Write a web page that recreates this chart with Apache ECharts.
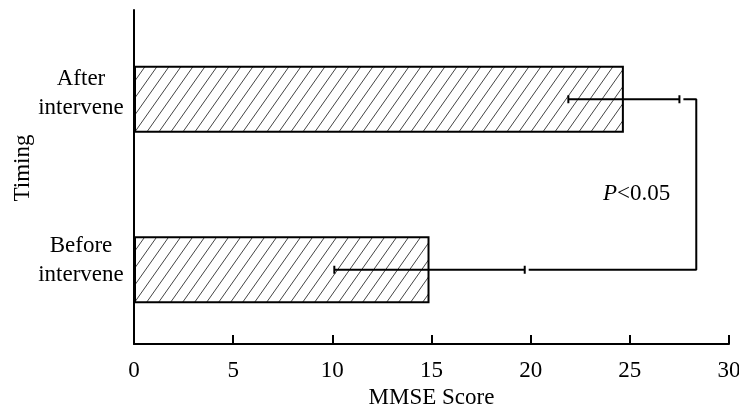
<!DOCTYPE html>
<html><head><meta charset="utf-8">
<script src="https://cdn.jsdelivr.net/npm/echarts@6/dist/echarts.min.js"></script>
<style>html,body{margin:0;padding:0;background:#fff}#c{width:739px;height:407px}</style>
</head><body><div id="c"></div>
<script>
// ---- data ----
const categories = ['Before intervene', 'After intervene'];
const categoryLabels = ['Before\nintervene', 'After\nintervene'];
const means = [14.9, 24.7];
const sds = [4.8, 2.8];
const xTicks = [0, 5, 10, 15, 20, 25, 30];
const bracketX = 28.35;
const bracketStarts = [19.9, 27.7];
const annotationItalic = 'P';
const annotationRest = '<0.05';
const xName = 'MMSE Score';
const yName = 'Timing';

// ---- hatch pattern ----
function makeHatch() {
  const w = 12, h = 17;
  const cv = document.createElement('canvas');
  cv.width = w; cv.height = h;
  const ctx = cv.getContext('2d');
  ctx.fillStyle = '#fff';
  ctx.fillRect(0, 0, w, h);
  ctx.strokeStyle = '#444';
  ctx.lineWidth = 1;
  for (const dx of [-w, 0, w]) {
    ctx.beginPath();
    ctx.moveTo(dx, h);
    ctx.lineTo(dx + w, 0);
    ctx.stroke();
  }
  return cv;
}

const font = 'Liberation Serif';
const chart = echarts.init(document.getElementById('c'), null, {renderer: 'canvas'});
const errData = categories.map((c, i) => [i, means[i] - sds[i], means[i] + sds[i]]);
const bracketData = [
  [bracketStarts[1], categories[1]],
  [bracketX, categories[1]],
  [bracketX, categories[0]],
  [bracketStarts[0], categories[0]]
];
const xMin = xTicks[0], xMax = xTicks[xTicks.length - 1];

chart.setOption({
  animation: false,
  backgroundColor: '#fff',
  grid: [
    {left: 134, right: 10, top: 14, bottom: 52, containLabel: false, outerBoundsMode: 'none'},
    {left: 134, right: 10, top: 10, bottom: 63, containLabel: false, outerBoundsMode: 'none'}
  ],
  xAxis: [
    {gridIndex: 0, type: 'value', min: xMin, max: xMax, interval: 5, show: false},
    {
      gridIndex: 1, type: 'value', min: xMin, max: xMax, interval: 5,
      name: xName, nameLocation: 'middle', nameGap: 42, nameMoveOverlap: false,
      nameTextStyle: {fontFamily: font, fontSize: 23, color: '#000'},
      axisLine: {show: true, lineStyle: {color: '#000', width: 2}},
      axisTick: {show: true, inside: true, length: 9, lineStyle: {color: '#000', width: 2}},
      axisLabel: {fontFamily: font, fontSize: 23, color: '#000', margin: 15, showMaxLabel: true, showMinLabel: true},
      splitLine: {show: false}
    }
  ],
  yAxis: [
    {gridIndex: 0, type: 'category', data: categories, show: false},
    {
      gridIndex: 1, type: 'category', data: categories,
      name: yName, nameLocation: 'middle', nameGap: 100, nameMoveOverlap: false,
      nameTextStyle: {fontFamily: font, fontSize: 23, color: '#000', padding: [0, 0, 0, 18]},
      axisLine: {show: true, lineStyle: {color: '#000', width: 2}},
      axisTick: {show: false},
      axisLabel: {
        fontFamily: font, fontSize: 23, color: '#000', lineHeight: 29, align: 'center', margin: 53,
        padding: [0, 0, 7, 0],
        formatter: (v) => categoryLabels[categories.indexOf(v)]
      }
    }
  ],
  series: [
    {
      type: 'bar', xAxisIndex: 0, yAxisIndex: 0, data: means, barWidth: 67,
      itemStyle: {color: {image: makeHatch(), repeat: 'repeat'}, borderColor: '#000', borderWidth: 2}
    },
    {
      type: 'custom', xAxisIndex: 0, yAxisIndex: 0, data: errData,
      renderItem: function (params, api) {
        const ci = api.value(0);
        const lo = api.coord([api.value(1), ci]);
        const hi = api.coord([api.value(2), ci]);
        const s = {stroke: '#000', lineWidth: 2};
        return {type: 'group', children: [
          {type: 'line', shape: {x1: lo[0], y1: lo[1], x2: hi[0], y2: hi[1]}, style: s},
          {type: 'line', shape: {x1: lo[0], y1: lo[1] - 4, x2: lo[0], y2: lo[1] + 4}, style: s},
          {type: 'line', shape: {x1: hi[0], y1: hi[1] - 4, x2: hi[0], y2: hi[1] + 4}, style: s}
        ]};
      },
      z: 5
    },
    {
      type: 'line', xAxisIndex: 0, yAxisIndex: 0, data: bracketData, symbol: 'none',
      lineStyle: {color: '#000', width: 2}, z: 5
    }
  ],
  graphic: [{
    type: 'text', left: 603, top: 182,
    style: {
      text: '{i|' + annotationItalic + '}' + annotationRest,
      font: '23px "Liberation Serif"', fill: '#000',
      rich: {i: {fontStyle: 'italic', fontFamily: font, fontSize: 23}}
    }
  }]
});
</script></body></html>
